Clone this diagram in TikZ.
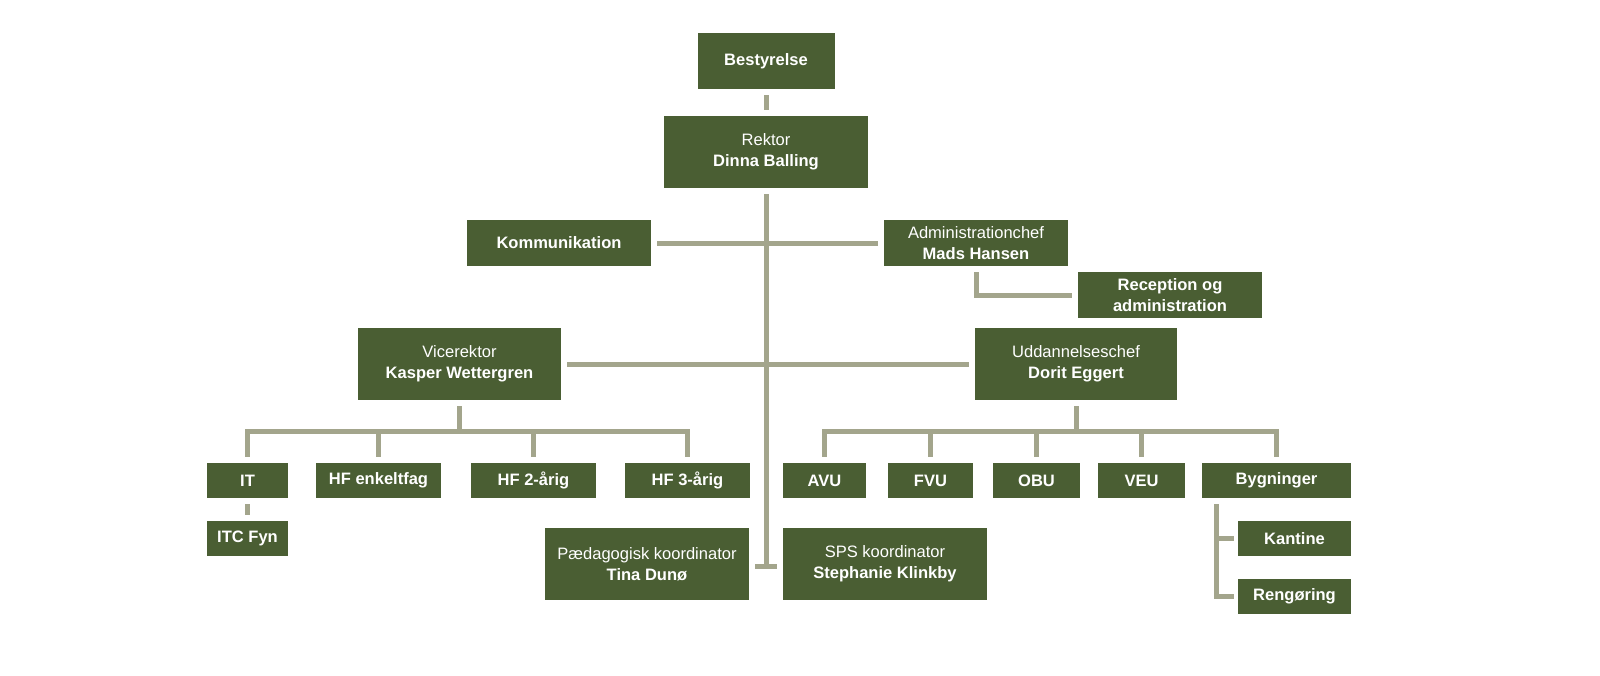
\documentclass[tikz,border=0pt]{standalone}
\usepackage{fontspec}
\setmainfont{Liberation Sans}
\usepackage{tikz}
\definecolor{boxgreen}{RGB}{74,94,51}
\definecolor{linkgray}{RGB}{163,165,140}

\begin{document}
\begin{tikzpicture}[x=0.75pt, y=-0.75pt,
   orgbox/.style={fill=boxgreen, text=white, align=center, inner sep=0pt,
      font=\fontsize{12.4}{15.5}\selectfont\bfseries},
   small/.style={orgbox, minimum height=26.25pt},
   mid/.style={orgbox, minimum height=34.5pt},
   tall/.style={orgbox, minimum height=54pt},
   link/.style={draw=linkgray, line width=3.75pt, shorten <=4.5pt, shorten >=4.5pt}]
   \useasboundingbox (0,0) rectangle (1600,675);
   % top
   \node[orgbox, minimum width=102.75pt, minimum height=42pt] at (766,61) (best) {Bestyrelse};
   \node[tall, minimum width=153pt] at (766,152) (rektor) {\mdseries Rektor\\Dinna Balling};
   \node[mid, minimum width=138pt] at (559,243) (komm) {Kommunikation};
   \node[mid, minimum width=138pt] at (976,243) (admin) {\mdseries Administrationchef\\Mads Hansen};
   \node[mid, minimum width=138pt] at (1170,295) (recep) {Reception og\\administration};
   \node[tall, minimum width=152.25pt] at (459.5,364) (vice) {\mdseries Vicerektor\\Kasper Wettergren};
   \node[tall, minimum width=151.5pt] at (1076,364) (udd) {\mdseries Uddannelseschef\\Dorit Eggert};
   % left row
   \node[small, minimum width=60.75pt] at (247.5,480.5) (it) {IT};
   \node[small, minimum width=93.75pt] at (378.5,480.5) (hfe) {HF enkeltfag};
   \node[small, minimum width=93.75pt] at (533.5,480.5) (hf2) {HF 2-årig};
   \node[small, minimum width=93.75pt] at (687.5,480.5) (hf3) {HF 3-årig};
   \node[small, minimum width=60.75pt] at (247.5,538.5) (itc) {ITC Fyn};
   % right row
   \node[small, minimum width=62.25pt] at (824.5,480.5) (avu) {AVU};
   \node[small, minimum width=63.75pt] at (930.5,480.5) (fvu) {FVU};
   \node[small, minimum width=65.25pt] at (1036.5,480.5) (obu) {OBU};
   \node[small, minimum width=65.25pt] at (1141.5,480.5) (veu) {VEU};
   \node[small, minimum width=111.75pt] at (1276.5,480.5) (byg) {Bygninger};
   \node[small, minimum width=84.75pt] at (1294.5,538.5) (kant) {Kantine};
   \node[small, minimum width=84.75pt] at (1294.5,596.5) (reng) {Rengøring};
   % koordinatorer
   \node[tall, minimum width=153pt] at (647,564) (paed) {\mdseries Pædagogisk koordinator\\Tina Dunø};
   \node[tall, minimum width=153pt] at (885,564) (sps) {\mdseries SPS koordinator\\Stephanie Klinkby};

   \coordinate (tend) at (766,566);
   \coordinate (vbar) at (459.5,431);
   \coordinate (ubar) at (1076,431);
   \coordinate (btop) at (1216,504);

   \draw[link] (best) -- (rektor);
   \draw[link, shorten >=0pt] (rektor) -- (tend);
   \draw[link, shorten <=0pt, shorten >=0pt] ([xshift=-8.25pt]tend) -- ([xshift=8.25pt]tend);
   \draw[link] (komm) -- (admin);
   \draw[link] (vice) -- (udd);
   \draw[link] (admin.south) |- (recep);
   \draw[link, shorten >=0pt] (vice) -- (vbar);
   \draw[link] (it) |- (vbar) -| (hf3);
   \foreach \c in {hfe, hf2}
      \draw[link, shorten <=0pt] (\c |- vbar) -- (\c);
   \draw[link] (it) -- (itc);
   \draw[link, shorten >=0pt] (udd) -- (ubar);
   \draw[link] (avu) |- (ubar) -| (byg);
   \foreach \c in {fvu, obu, veu}
      \draw[link, shorten <=0pt] (\c |- ubar) -- (\c);
   \draw[link, shorten <=0pt, shorten >=3pt] (btop) |- (reng);
   \draw[link, shorten <=0pt, shorten >=3pt] (btop |- kant) -- (kant);
\end{tikzpicture}
\end{document}
